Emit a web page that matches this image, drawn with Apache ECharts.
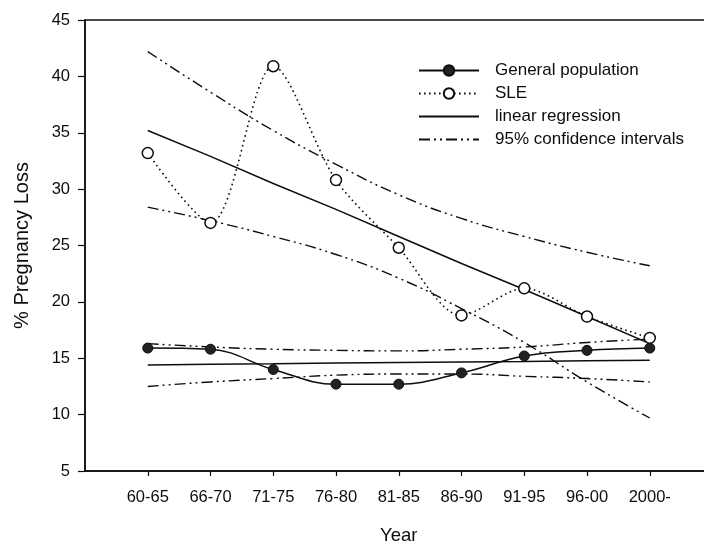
<!DOCTYPE html>
<html>
<head>
<meta charset="utf-8">
<script src="https://cdn.jsdelivr.net/npm/echarts@6/dist/echarts.min.js"></script>
<style>
html,body{margin:0;padding:0;background:#fff;}
#chart{width:704px;height:544px;}
</style>
</head>
<body>
<div id="chart"></div>
<script>
const categories = ['60-65', '66-70', '71-75', '76-80', '81-85', '86-90', '91-95', '96-00', '2000-'];
const generalPopulation = [15.9, 15.8, 14.0, 12.7, 12.7, 13.7, 15.2, 15.7, 15.9];
const slePatients = [33.2, 27.0, 40.9, 30.8, 24.8, 18.8, 21.2, 18.7, 16.8];
const sleRegression = [35.2, 32.9, 30.5, 28.2, 25.8, 23.4, 21.1, 18.7, 16.3];
const sleUpperCI = [42.2, 38.6, 35.2, 32.2, 29.5, 27.4, 25.8, 24.4, 23.2];
const sleLowerCI = [28.4, 27.2, 25.8, 24.2, 22.1, 19.4, 16.4, 12.9, 9.7];
const generalRegression = [14.41, 14.46, 14.51, 14.57, 14.62, 14.67, 14.72, 14.78, 14.83];
const generalUpperCI = [16.3, 16.0, 15.8, 15.7, 15.65, 15.8, 16.0, 16.4, 16.7];
const generalLowerCI = [12.5, 12.9, 13.2, 13.5, 13.6, 13.6, 13.4, 13.2, 12.9];
const yTicks = [5, 10, 15, 20, 25, 30, 35, 40, 45];

const pairs = arr => arr.map((v, i) => [i + 1, v]);
const categoryPositions = categories.map((c, i) => i + 1);
const ciDash = [11, 4, 2, 4, 2, 4];
const INK = '#0d0d0d';

const chart = echarts.init(document.getElementById('chart'), null, {renderer: 'canvas'});
const ciSeries = (data) => ({
  name: '95% confidence intervals', type: 'line', data: pairs(data), smooth: 0.5,
  symbol: 'none', lineStyle: {color: INK, width: 1.4, type: ciDash}, itemStyle: {color: INK}
});
const regSeries = (data) => ({
  name: 'linear regression', type: 'line', data: pairs(data), smooth: false,
  symbol: 'none', lineStyle: {color: INK, width: 1.5, type: 'solid'}, itemStyle: {color: INK}
});

chart.setOption({
  animation: false,
  backgroundColor: '#fff',
  textStyle: {fontFamily: 'Liberation Sans, Arial, sans-serif', color: INK},
  grid: {left: 85, top: 20, width: 627.5, height: 451, outerBoundsMode: 'none', containLabel: false,
         show: true, borderColor: INK, borderWidth: 1.5, backgroundColor: 'transparent'},
  legend: {
    orient: 'vertical', left: 413, top: 54, itemWidth: 60, itemHeight: 13, itemGap: 0,
    data: [
      {name: 'General population'},
      {name: 'SLE'},
      {name: 'linear regression', itemStyle: {opacity: 0}},
      {name: '95% confidence intervals', itemStyle: {opacity: 0}}
    ],
    textStyle: {fontSize: 17, color: INK, lineHeight: 23, padding: [0, 0, 0, 11]},
    inactiveColor: INK
  },
  xAxis: {
    type: 'value', min: 0, max: 10, interval: 1,
    name: 'Year', nameLocation: 'middle', nameGap: 55,
    nameTextStyle: {fontSize: 18.5, color: INK},
    axisLine: {show: true, onZero: false, lineStyle: {color: INK, width: 1.5}},
    axisTick: {show: true, length: 5, customValues: categoryPositions, lineStyle: {color: INK, width: 1.2}},
    axisLabel: {
      margin: 18, fontSize: 16.5, color: INK,
      formatter: v => (v >= 1 && v <= categories.length) ? categories[v - 1] : ''
    },
    splitLine: {show: false}
  },
  yAxis: {
    type: 'value', min: yTicks[0], max: yTicks[yTicks.length - 1], interval: 5,
    name: '% Pregnancy Loss', nameLocation: 'middle', nameGap: 53, nameRotate: 90,
    nameTextStyle: {fontSize: 20, color: INK},
    axisLine: {show: true, lineStyle: {color: INK, width: 1.5}},
    axisTick: {show: true, length: 7, lineStyle: {color: INK, width: 1.2}},
    axisLabel: {margin: 15, fontSize: 16.5, color: INK},
    splitLine: {show: false}
  },
  series: [
    ciSeries(sleUpperCI), ciSeries(sleLowerCI), ciSeries(generalUpperCI), ciSeries(generalLowerCI),
    regSeries(sleRegression), regSeries(generalRegression),
    {
      name: 'SLE', type: 'line', data: pairs(slePatients), smooth: 0.3, z: 5,
      symbol: 'circle', symbolSize: 11, showAllSymbol: true,
      lineStyle: {color: INK, width: 1.6, type: [1.6, 3.4]},
      itemStyle: {color: '#fff', borderColor: INK, borderWidth: 1.5}
    },
    {
      name: 'General population', type: 'line', data: pairs(generalPopulation), smooth: 0.4, z: 6,
      symbol: 'circle', symbolSize: 10, showAllSymbol: true,
      lineStyle: {color: INK, width: 1.5},
      itemStyle: {color: '#222', borderColor: INK, borderWidth: 1}
    }
  ]
});
</script>
</body>
</html>
